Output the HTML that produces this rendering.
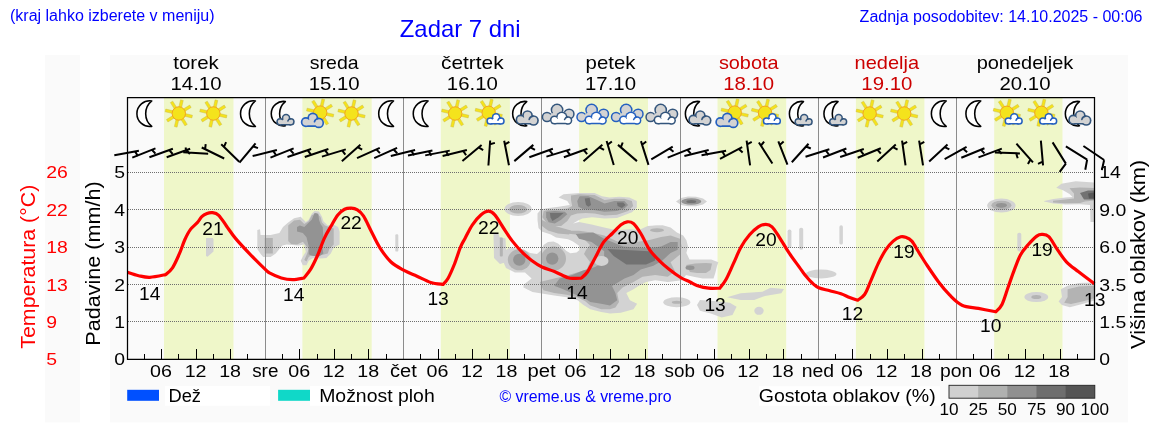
<!DOCTYPE html>
<html><head><meta charset="utf-8"><style>
html,body{margin:0;padding:0;background:#fff;overflow:hidden;width:1152px;height:443px;}
svg{display:block;font-family:"Liberation Sans", sans-serif;will-change:transform;}
</style></head><body>
<svg width="1152" height="443" viewBox="0 0 1152 443">
<rect x="0" y="0" width="1152" height="443" fill="#fff"/>
<rect x="45" y="55" width="35" height="367.4" fill="#fafafa"/>
<rect x="110" y="55" width="1018" height="367.4" fill="#fafafa"/>
<rect x="164.0" y="97.5" width="69.5" height="261.8" fill="#eff7c9"/>
<rect x="302.4" y="97.5" width="69.3" height="261.8" fill="#eff7c9"/>
<rect x="440.8" y="97.5" width="69.1" height="261.8" fill="#eff7c9"/>
<rect x="579.1" y="97.5" width="68.9" height="261.8" fill="#eff7c9"/>
<rect x="717.5" y="97.5" width="68.7" height="261.8" fill="#eff7c9"/>
<rect x="855.9" y="97.5" width="68.5" height="261.8" fill="#eff7c9"/>
<rect x="994.2" y="97.5" width="68.3" height="261.8" fill="#eff7c9"/>
<path d="M206.0,238.0 L212.8,238.0 L213.5,239.5 L213.5,251.5 L207.5,256.8 L206.0,256.0Z" fill="#d3d3d3"/>
<path d="M257.3,230.0 L260.0,229.2 L260.6,235.1 L270.6,235.1 L279.4,232.9 L283.0,227.0 L288.2,222.6 L294.1,218.2 L300.7,216.7 L303.6,219.7 L305.8,221.9 L308.7,219.7 L311.7,213.8 L314.6,210.9 L319.0,211.6 L322.0,216.7 L323.4,221.2 L327.8,225.6 L332.2,224.1 L338.1,227.0 L339.6,231.4 L339.6,244.6 L333.7,247.6 L330.8,253.5 L326.4,257.9 L320.5,258.6 L313.1,257.9 L308.7,260.8 L306.5,265.2 L302.9,265.2 L300.7,260.8 L302.9,256.4 L305.8,252.0 L304.3,244.6 L298.5,245.4 L286.7,244.6 L282.3,245.4 L279.4,249.1 L275.7,253.5 L270.6,257.1 L263.2,257.1 L260.3,253.5 L257.3,249.1Z" fill="#d3d3d3"/>
<path d="M264.7,238.0 L272.8,238.0 L272.8,253.5 L264.7,253.5Z" fill="#b3b3b3"/>
<path d="M288.2,225.6 L294.1,220.4 L299.9,219.7 L304.3,224.1 L308.7,221.2 L311.7,215.3 L316.1,213.1 L320.5,216.7 L322.0,222.6 L324.9,225.6 L329.3,227.0 L333.7,228.5 L333.7,244.6 L329.3,249.1 L327.8,253.5 L322.0,254.9 L316.1,255.7 L311.7,254.9 L308.7,257.1 L306.5,261.5 L304.3,260.1 L306.5,254.9 L308.7,249.1 L302.9,241.7 L297.0,244.6 L291.1,243.9 L288.2,241.0Z" fill="#b3b3b3"/>
<path d="M297.0,227.0 L299.9,225.6 L304.3,227.0 L307.3,224.1 L311.7,219.7 L314.6,213.1 L318.3,213.8 L319.0,219.7 L320.5,224.1 L322.7,227.0 L323.4,237.3 L322.0,246.1 L323.4,253.5 L319.0,256.4 L311.7,255.7 L308.7,254.2 L308.7,246.1 L306.5,237.3 L302.9,232.9 L297.0,231.4Z" fill="#939393"/>
<rect x="395.3" y="234.2" width="3.0" height="17.4" rx="1.2" fill="#d3d3d3"/>
<ellipse cx="518.1" cy="209.0" rx="13.6" ry="7.0" fill="#d3d3d3"/>
<ellipse cx="518.1" cy="209.2" rx="9.0" ry="4.3" fill="#b3b3b3"/>
<path d="M493.5,234.0 L498.5,233.5 L499.5,237.0 L505.5,238.5 L506.5,262.0 L500.0,264.0 L494.0,258.0Z" fill="#d3d3d3"/>
<rect x="499.8" y="237.5" width="3.0" height="19.1" rx="1" fill="#b3b3b3"/>
<path d="M537.5,213.6 L541.2,209.2 L548.6,208.0 L558.6,206.7 L569.8,204.9 L567.3,201.1 L558.6,197.4 L563.5,194.3 L579.7,193.1 L594.6,193.1 L602.0,196.2 L609.5,197.4 L619.4,196.8 L629.4,197.4 L636.8,201.1 L636.8,207.4 L631.9,212.3 L617.0,217.9 L604.5,218.5 L592.1,217.3 L582.2,218.5 L577.2,221.0 L573.0,223.5 L579.0,222.1 L591.6,224.5 L604.2,227.6 L612.1,229.2 L618.5,230.0 L629.5,229.2 L639.0,230.0 L647.7,226.0 L654.8,225.6 L662.7,225.3 L670.6,227.6 L676.9,232.4 L683.2,235.5 L686.4,240.3 L688.0,246.6 L686.4,252.9 L689.5,259.5 L700.3,259.5 L711.2,259.5 L718.4,262.2 L717.0,266.0 L715.3,273.0 L713.5,278.5 L702.7,278.5 L693.6,276.7 L686.0,275.0 L682.3,280.3 L667.8,282.1 L655.2,280.3 L646.1,282.1 L638.9,285.7 L633.5,289.3 L626.3,293.0 L629.9,300.2 L637.1,303.8 L633.5,309.2 L620.8,312.8 L610.0,313.5 L601.2,311.9 L590.3,309.2 L583.1,304.7 L577.7,300.2 L568.6,297.4 L554.2,295.6 L543.4,293.8 L532.5,292.0 L523.5,287.5 L523.5,284.8 L531.6,278.5 L525.0,272.5 L515.0,272.5 L506.0,268.0 L502.5,260.0 L504.0,251.0 L510.0,247.5 L516.7,248.5 L524.0,249.5 L530.0,253.0 L537.0,254.0 L541.5,250.0 L543.5,245.0 L548.0,242.0 L553.5,241.5 L558.0,243.5 L562.7,247.5 L566.5,251.0 L570.3,253.3 L576.5,252.6 L579.6,250.0 L578.8,245.5 L573.0,241.5 L568.0,239.2 L556.0,237.5 L550.8,234.4 L541.7,231.5 L538.5,228.0 L537.5,220.0Z" fill="#d3d3d3"/>
<path d="M543.7,211.1 L548.6,209.8 L558.6,209.2 L567.3,208.6 L572.2,206.1 L571.0,199.9 L571.0,195.6 L579.7,194.3 L594.6,194.9 L599.6,197.4 L604.5,199.9 L614.5,198.7 L624.4,198.7 L631.9,201.1 L633.1,206.1 L628.1,211.1 L617.0,214.8 L604.5,215.4 L594.6,213.6 L585.9,213.0 L577.2,213.6 L571.0,215.4 L567.3,221.0 L561.1,226.0 L552.4,226.0 L546.1,222.3 L542.4,217.3Z" fill="#b3b3b3"/>
<path d="M566.3,230.8 L579.0,230.8 L591.6,232.4 L604.2,235.5 L618.5,241.9 L635.8,241.9 L648.5,240.3 L661.1,237.1 L670.6,235.5 L680.0,238.7 L681.6,246.6 L680.0,254.5 L670.6,262.2 L675.0,271.3 L667.8,276.7 L655.2,274.9 L642.5,276.7 L633.5,282.1 L622.6,287.5 L617.2,292.9 L619.0,302.0 L615.4,307.4 L610.0,309.2 L601.2,309.2 L590.3,305.6 L584.9,301.1 L577.7,297.4 L566.8,294.7 L554.2,292.9 L543.4,290.2 L539.7,282.1 L554.2,278.5 L568.6,274.9 L577.7,272.2 L586.7,269.5 L590.0,262.0 L584.0,254.0 L586.0,250.0 L590.0,245.0 L585.0,240.0 L576.0,234.5 L566.0,233.5Z" fill="#b3b3b3"/>
<path d="M542.0,220.0 L552.0,225.0 L562.0,228.0 L571.0,230.5 L569.0,234.5 L558.0,233.5 L548.0,230.5 L542.0,226.0Z" fill="#b3b3b3"/>
<ellipse cx="519.3" cy="259.8" rx="11.5" ry="10.5" fill="#b3b3b3"/>
<ellipse cx="553.5" cy="258.6" rx="12.5" ry="12.0" fill="#b3b3b3"/>
<path d="M686.0,265.0 L695.0,263.5 L706.0,263.0 L712.0,263.5 L710.5,270.0 L706.0,273.0 L697.0,273.0 L690.0,272.0Z" fill="#b3b3b3"/>
<path d="M579.7,196.2 L588.4,196.2 L597.1,199.9 L604.5,203.6 L614.5,201.1 L624.4,201.1 L628.1,204.9 L624.4,208.6 L617.0,211.1 L604.5,211.7 L592.1,209.8 L583.4,209.2 L578.4,206.7 L577.2,201.1Z" fill="#939393"/>
<path d="M546.1,211.7 L554.8,211.1 L564.8,211.7 L567.3,214.2 L561.1,219.8 L554.8,223.5 L548.6,222.3 L546.1,217.3Z" fill="#939393"/>
<path d="M575.8,234.0 L593.2,232.4 L604.2,238.7 L623.2,246.6 L648.5,248.2 L661.1,246.6 L670.6,241.9 L677.7,241.9 L677.7,249.8 L670.6,252.9 L662.4,260.4 L653.4,265.8 L640.7,269.5 L633.5,274.9 L624.5,278.5 L615.4,283.9 L612.0,286.0 L615.4,292.9 L617.2,300.2 L610.0,305.6 L601.2,303.8 L590.3,302.0 L584.9,298.4 L575.9,294.7 L563.2,289.3 L554.2,285.7 L559.6,278.5 L572.3,274.9 L583.1,270.4 L595.0,267.0 L604.0,262.0 L604.2,251.3 L591.6,241.9 L579.0,238.7Z" fill="#939393"/>
<ellipse cx="519.3" cy="259.8" rx="6.2" ry="6.0" fill="#939393"/>
<ellipse cx="552.2" cy="258.6" rx="6.2" ry="6.2" fill="#939393"/>
<ellipse cx="690.0" cy="267.8" rx="4.5" ry="2.2" fill="#939393"/>
<ellipse cx="601.5" cy="261.0" rx="7.0" ry="5.0" fill="#d3d3d3"/>
<path d="M584.7,198.6 L589.6,198.0 L591.0,204.9 L588.4,206.7 L586.0,204.9Z" fill="#727272"/>
<path d="M617.0,202.4 L623.2,202.4 L625.6,204.9 L621.9,208.0 L617.6,206.1Z" fill="#727272"/>
<path d="M549.9,213.0 L563.5,213.0 L558.6,217.3 L552.4,221.0 L550.5,217.3Z" fill="#727272"/>
<path d="M607.4,249.0 L648.5,251.3 L655.0,256.0 L655.2,260.4 L646.1,264.5 L626.4,264.5 L613.7,256.0Z" fill="#727272"/>
<path d="M676.0,201.5 L681.0,198.0 L688.0,196.5 L696.0,196.7 L703.0,198.5 L707.0,201.5 L703.0,204.5 L696.0,206.2 L688.0,206.3 L681.0,205.0Z" fill="#d3d3d3"/>
<ellipse cx="691.3" cy="201.5" rx="10.0" ry="3.2" fill="#939393"/>
<ellipse cx="691.3" cy="201.5" rx="5.0" ry="1.6" fill="#727272"/>
<ellipse cx="657.0" cy="230.2" rx="12.6" ry="4.5" fill="#d3d3d3"/>
<ellipse cx="657.0" cy="230.2" rx="7.0" ry="2.0" fill="#b3b3b3"/>
<ellipse cx="676.8" cy="302.3" rx="13.5" ry="5.0" fill="#d3d3d3"/>
<ellipse cx="676.8" cy="302.3" rx="5.0" ry="1.5" fill="#b3b3b3"/>
<path d="M700.0,300.0 L716.3,301.3 L729.8,302.7 L736.6,306.7 L732.5,314.9 L721.7,317.6 L710.8,313.5 L700.0,310.8 L697.0,305.0Z" fill="#d3d3d3"/>
<path d="M727.0,297.2 L740.7,293.2 L762.3,291.8 L770.5,287.7 L784.0,289.1 L781.3,293.2 L765.0,295.9 L754.2,300.0 L740.7,300.0Z" fill="#d3d3d3"/>
<ellipse cx="759.0" cy="310.8" rx="4.7" ry="4.0" fill="#d3d3d3"/>
<rect x="787.6" y="229.4" width="3.8" height="18.6" rx="1.8" fill="#d3d3d3"/>
<rect x="799.2" y="227.7" width="4.0" height="22.0" rx="1.8" fill="#d3d3d3"/>
<ellipse cx="821.0" cy="274.0" rx="15.5" ry="4.4" fill="#d3d3d3"/>
<rect x="839.4" y="225.2" width="3.5" height="19.4" rx="1.7" fill="#d3d3d3"/>
<ellipse cx="1001.4" cy="205.6" rx="14.2" ry="7.0" fill="#d3d3d3"/>
<ellipse cx="1001.4" cy="205.3" rx="10.0" ry="4.6" fill="#b3b3b3"/>
<ellipse cx="1001.4" cy="205.3" rx="5.5" ry="2.4" fill="#939393"/>
<rect x="1017.3" y="232.7" width="4.0" height="18.7" rx="1.8" fill="#d3d3d3"/>
<ellipse cx="1036.3" cy="297.1" rx="11.9" ry="5.0" fill="#d3d3d3"/>
<ellipse cx="1036.3" cy="297.1" rx="5.0" ry="2.0" fill="#b3b3b3"/>
<path d="M1056.3,187.8 L1061.4,183.7 L1075.6,181.2 L1093.9,182.4 L1094.5,182.4 L1094.5,222.0 L1090.5,222.0 L1090.0,205.0 L1080.0,204.2 L1065.5,204.5 L1053.3,203.5 L1044.1,201.5 L1044.1,201.0 L1053.3,199.0 L1065.5,197.4 L1072.6,196.9 L1069.5,193.9 L1063.0,190.3Z" fill="#d3d3d3"/>
<path d="M1069.5,188.3 L1080.0,187.5 L1094.5,188.0 L1094.5,200.5 L1085.0,201.5 L1080.0,203.0 L1065.0,203.2 L1053.0,202.5 L1053.0,200.8 L1065.0,199.5 L1074.0,198.5 L1074.0,193.5Z" fill="#b3b3b3"/>
<path d="M1080.0,193.0 L1088.0,190.5 L1094.5,190.5 L1094.5,199.5 L1084.0,199.5Z" fill="#727272"/>
<path d="M1088.0,193.5 L1094.5,192.5 L1094.5,198.5 L1089.0,198.5Z" fill="#585858"/>
<path d="M1060.8,289.2 L1067.6,285.8 L1078.9,283.0 L1094.5,282.4 L1094.5,300.5 L1082.3,303.9 L1069.8,307.3 L1061.9,305.0 L1058.6,301.6 L1062.0,297.1Z" fill="#d3d3d3"/>
<path d="M1067.6,289.2 L1078.9,286.4 L1094.5,285.8 L1094.5,298.2 L1082.3,301.6 L1071.0,303.9 L1064.2,302.7 L1067.6,297.1Z" fill="#b3b3b3"/>
<line x1="128" y1="321.5" x2="1094" y2="321.5" stroke="#6e6e6e" stroke-width="1" stroke-dasharray="1 1"/>
<line x1="128" y1="284.5" x2="1094" y2="284.5" stroke="#6e6e6e" stroke-width="1" stroke-dasharray="1 1"/>
<line x1="128" y1="247.5" x2="1094" y2="247.5" stroke="#6e6e6e" stroke-width="1" stroke-dasharray="1 1"/>
<line x1="128" y1="209.5" x2="1094" y2="209.5" stroke="#6e6e6e" stroke-width="1" stroke-dasharray="1 1"/>
<line x1="128" y1="172.5" x2="1094" y2="172.5" stroke="#6e6e6e" stroke-width="1" stroke-dasharray="1 1"/>
<line x1="265.5" y1="97.5" x2="265.5" y2="359.3" stroke="#8c8c8c" stroke-width="1"/>
<line x1="403.5" y1="97.5" x2="403.5" y2="359.3" stroke="#8c8c8c" stroke-width="1"/>
<line x1="541.5" y1="97.5" x2="541.5" y2="359.3" stroke="#8c8c8c" stroke-width="1"/>
<line x1="680.5" y1="97.5" x2="680.5" y2="359.3" stroke="#8c8c8c" stroke-width="1"/>
<line x1="818.5" y1="97.5" x2="818.5" y2="359.3" stroke="#8c8c8c" stroke-width="1"/>
<line x1="956.5" y1="97.5" x2="956.5" y2="359.3" stroke="#8c8c8c" stroke-width="1"/>
<path d="M127.6,272.3 C129.4,272.9 134.9,274.9 138.6,275.7 C142.3,276.5 145.4,277.5 149.9,277.3 C154.4,277.1 163.1,275.1 165.7,274.6 C166.8,273.5 170.2,271.2 172.5,267.8 C174.8,264.4 177.1,258.9 179.2,254.2 C181.3,249.5 183.0,243.6 184.9,239.5 C186.8,235.4 188.4,232.2 190.5,229.4 C192.6,226.6 195.4,224.7 197.3,222.6 C199.2,220.5 200.2,218.2 201.8,216.7 C203.4,215.2 205.3,214.2 207.0,213.5 C208.7,212.8 210.1,212.3 212.0,212.6 C213.9,212.9 216.3,213.0 218.7,215.3 C221.1,217.6 223.8,222.3 226.6,226.2 C229.4,230.1 231.9,234.1 235.7,238.6 C239.5,243.1 244.3,248.2 249.2,253.3 C254.1,258.4 261.5,265.8 265.0,269.1 C268.5,272.4 267.3,271.7 270.0,273.2 C272.7,274.7 277.5,276.9 281.3,278.0 C285.1,279.1 288.8,279.6 292.6,279.6 C296.4,279.6 302.0,278.3 303.9,278.0 C305.0,276.5 308.4,272.9 310.7,269.1 C313.0,265.4 315.2,260.6 317.5,255.5 C319.8,250.4 321.9,243.5 324.2,238.6 C326.4,233.7 328.7,230.1 331.0,226.2 C333.3,222.2 335.5,217.7 337.8,214.9 C340.1,212.1 342.4,210.3 344.6,209.2 C346.8,208.1 349.1,208.0 351.2,208.1 C353.3,208.2 355.3,208.6 357.4,209.9 C359.5,211.2 361.3,212.6 363.6,216.1 C365.9,219.6 368.4,225.8 371.1,231.0 C373.8,236.2 376.5,242.4 379.8,247.6 C383.1,252.8 386.9,258.1 391.0,262.0 C395.1,265.9 400.3,268.3 404.6,270.7 C408.9,273.1 412.6,274.2 417.0,276.2 C421.4,278.1 426.3,281.0 430.7,282.4 C435.1,283.8 441.0,284.1 443.1,284.4 C443.9,283.4 446.2,281.5 448.1,278.2 C450.0,274.9 452.2,269.7 454.3,264.5 C456.4,259.3 458.7,251.4 460.5,247.1 C462.3,242.8 463.0,242.1 465.0,238.4 C467.0,234.7 469.7,228.7 472.4,224.8 C475.1,220.9 478.4,217.1 481.1,214.8 C483.8,212.5 486.3,211.1 488.6,211.1 C490.9,211.1 492.5,212.3 494.8,214.8 C497.1,217.3 499.3,221.7 502.2,226.0 C505.1,230.3 508.9,236.6 512.2,240.9 C515.5,245.2 518.8,248.8 522.1,252.1 C525.4,255.4 528.7,258.3 532.0,260.8 C535.3,263.3 538.3,265.2 542.0,267.0 C545.7,268.8 550.0,269.7 554.4,271.5 C558.8,273.3 564.7,276.7 568.1,277.8 C571.5,278.9 572.8,278.3 575.0,278.4 C577.2,278.5 580.2,278.2 581.2,278.2 C582.2,277.2 585.1,275.3 587.4,272.0 C589.7,268.7 592.2,263.3 594.9,258.3 C597.6,253.3 600.7,246.3 603.6,242.2 C606.5,238.1 609.4,236.4 612.3,233.5 C615.2,230.6 618.5,226.8 621.0,224.8 C623.5,222.9 625.1,222.0 627.2,221.8 C629.3,221.6 631.1,221.6 633.4,223.5 C635.7,225.4 638.1,229.2 640.8,233.5 C643.5,237.8 646.4,245.0 649.5,249.6 C652.6,254.2 656.2,257.5 659.5,260.8 C662.8,264.1 665.9,266.7 669.4,269.5 C672.9,272.3 677.2,275.4 680.6,277.5 C684.0,279.6 687.2,280.6 690.0,282.0 C692.8,283.4 694.4,284.7 697.5,285.7 C700.6,286.7 704.9,287.8 708.6,288.2 C712.3,288.6 717.9,288.2 719.8,288.2 C720.8,286.8 723.7,283.6 726.0,279.5 C728.3,275.4 731.0,268.8 733.5,263.4 C736.0,258.0 738.2,252.0 740.9,247.2 C743.6,242.4 746.7,238.2 749.6,234.8 C752.5,231.4 755.6,228.6 758.3,226.8 C761.0,225.1 763.5,224.3 765.8,224.3 C768.1,224.3 769.7,224.6 772.0,226.8 C774.3,229.0 776.5,232.9 779.4,237.3 C782.3,241.7 786.1,248.4 789.4,253.4 C792.7,258.4 796.7,263.5 799.3,267.1 C801.9,270.7 802.8,272.4 805.0,275.1 C807.2,277.8 810.2,281.2 812.5,283.3 C814.8,285.4 815.8,286.6 818.7,287.8 C821.6,289.0 826.1,289.7 829.8,290.7 C833.5,291.7 837.7,292.6 841.0,293.7 C844.3,294.8 846.9,296.4 849.7,297.5 C852.5,298.6 856.4,299.8 857.7,300.2 C858.9,299.2 862.4,297.7 864.6,294.5 C866.8,291.3 868.5,286.0 870.8,280.8 C873.1,275.6 875.8,268.6 878.3,263.4 C880.8,258.2 883.2,253.5 885.7,249.8 C888.2,246.1 890.7,243.3 893.2,241.1 C895.7,238.9 898.6,237.4 900.7,236.8 C902.8,236.2 903.8,236.6 905.6,237.3 C907.5,238.0 909.7,238.8 911.8,241.1 C913.9,243.4 916.3,248.3 918.0,251.0 C919.7,253.7 920.4,255.0 922.0,257.5 C923.6,260.0 924.7,261.9 927.5,266.0 C930.3,270.1 934.9,277.1 938.6,282.0 C942.3,286.9 945.9,291.3 949.8,295.2 C953.7,299.1 957.2,303.0 962.0,305.2 C966.8,307.4 972.8,307.3 978.4,308.4 C984.0,309.5 992.9,311.2 995.8,311.8 C996.8,310.6 999.9,308.5 1002.0,304.4 C1004.1,300.3 1006.1,292.8 1008.2,287.0 C1010.3,281.2 1012.3,275.0 1014.4,269.6 C1016.5,264.2 1018.3,258.8 1020.6,254.7 C1022.9,250.6 1025.4,247.9 1028.1,244.8 C1030.8,241.7 1034.5,237.8 1036.8,236.1 C1039.1,234.4 1040.0,234.3 1042.0,234.4 C1044.0,234.5 1046.3,234.2 1048.8,236.6 C1051.3,239.0 1054.0,244.6 1056.9,248.8 C1059.8,253.0 1062.8,258.0 1066.4,261.8 C1070.0,265.6 1073.9,268.1 1078.6,271.8 C1083.3,275.5 1091.8,281.8 1094.5,283.8" fill="none" stroke="#ff0000" stroke-width="3.2" stroke-linejoin="round" stroke-linecap="butt"/>
<text x="139.1" y="299.6" font-size="17.5" fill="#000" text-anchor="start" textLength="21.4" lengthAdjust="spacingAndGlyphs">14</text>
<text x="202.3" y="235.4" font-size="17.5" fill="#000" text-anchor="start" textLength="21.4" lengthAdjust="spacingAndGlyphs">21</text>
<text x="283.0" y="300.5" font-size="17.5" fill="#000" text-anchor="start" textLength="21.4" lengthAdjust="spacingAndGlyphs">14</text>
<text x="340.4" y="228.6" font-size="17.5" fill="#000" text-anchor="start" textLength="21.4" lengthAdjust="spacingAndGlyphs">22</text>
<text x="427.4" y="304.5" font-size="17.5" fill="#000" text-anchor="start" textLength="21.4" lengthAdjust="spacingAndGlyphs">13</text>
<text x="478.0" y="233.6" font-size="17.5" fill="#000" text-anchor="start" textLength="21.4" lengthAdjust="spacingAndGlyphs">22</text>
<text x="566.2" y="299.4" font-size="17.5" fill="#000" text-anchor="start" textLength="21.4" lengthAdjust="spacingAndGlyphs">14</text>
<text x="617.1" y="244.3" font-size="17.5" fill="#000" text-anchor="start" textLength="21.4" lengthAdjust="spacingAndGlyphs">20</text>
<text x="704.4" y="310.7" font-size="17.5" fill="#000" text-anchor="start" textLength="21.4" lengthAdjust="spacingAndGlyphs">13</text>
<text x="755.2" y="246.1" font-size="17.5" fill="#000" text-anchor="start" textLength="21.4" lengthAdjust="spacingAndGlyphs">20</text>
<text x="841.7" y="320.0" font-size="17.5" fill="#000" text-anchor="start" textLength="21.4" lengthAdjust="spacingAndGlyphs">12</text>
<text x="893.3" y="258.1" font-size="17.5" fill="#000" text-anchor="start" textLength="21.4" lengthAdjust="spacingAndGlyphs">19</text>
<text x="980.1" y="331.7" font-size="17.5" fill="#000" text-anchor="start" textLength="21.4" lengthAdjust="spacingAndGlyphs">10</text>
<text x="1031.4" y="256.0" font-size="17.5" fill="#000" text-anchor="start" textLength="21.4" lengthAdjust="spacingAndGlyphs">19</text>
<text x="1084.0" y="306.1" font-size="17.5" fill="#000" text-anchor="start" textLength="21.4" lengthAdjust="spacingAndGlyphs">13</text>
<path d="M151.77,100.90 A12.90,12.90 0 1 0 151.77,126.40 A16.40,16.40 0 0 1 151.77,100.90 Z" fill="#fff" stroke="#000" stroke-width="1.55" stroke-linejoin="round"/>
<path d="M184.54,116.26 L191.85,117.95 L192.48,115.22 L185.17,113.53Z" fill="#f4e31c" stroke="#c9b84a" stroke-width="0.45"/><path d="M180.91,119.50 L184.89,125.86 L187.26,124.38 L183.29,118.02Z" fill="#f4e31c" stroke="#c9b84a" stroke-width="0.45"/><path d="M176.05,119.23 L174.37,126.53 L177.10,127.16 L178.78,119.86Z" fill="#f4e31c" stroke="#c9b84a" stroke-width="0.45"/><path d="M172.81,115.60 L166.45,119.57 L167.94,121.95 L174.30,117.97Z" fill="#f4e31c" stroke="#c9b84a" stroke-width="0.45"/><path d="M173.09,110.74 L165.78,109.05 L165.15,111.78 L172.46,113.47Z" fill="#f4e31c" stroke="#c9b84a" stroke-width="0.45"/><path d="M176.71,107.50 L172.74,101.14 L170.37,102.62 L174.34,108.98Z" fill="#f4e31c" stroke="#c9b84a" stroke-width="0.45"/><path d="M181.57,107.77 L183.26,100.47 L180.53,99.84 L178.84,107.14Z" fill="#f4e31c" stroke="#c9b84a" stroke-width="0.45"/><path d="M184.81,111.40 L191.17,107.43 L189.69,105.05 L183.33,109.03Z" fill="#f4e31c" stroke="#c9b84a" stroke-width="0.45"/><circle cx="178.81" cy="113.50" r="6.70" fill="#f4e31c" stroke="#f3a41e" stroke-width="1"/>
<path d="M219.08,116.26 L226.39,117.95 L227.02,115.22 L219.71,113.53Z" fill="#f4e31c" stroke="#c9b84a" stroke-width="0.45"/><path d="M215.45,119.50 L219.43,125.86 L221.80,124.38 L217.83,118.02Z" fill="#f4e31c" stroke="#c9b84a" stroke-width="0.45"/><path d="M210.60,119.23 L208.91,126.53 L211.64,127.16 L213.32,119.86Z" fill="#f4e31c" stroke="#c9b84a" stroke-width="0.45"/><path d="M207.36,115.60 L200.99,119.57 L202.48,121.95 L208.84,117.97Z" fill="#f4e31c" stroke="#c9b84a" stroke-width="0.45"/><path d="M207.63,110.74 L200.32,109.05 L199.69,111.78 L207.00,113.47Z" fill="#f4e31c" stroke="#c9b84a" stroke-width="0.45"/><path d="M211.26,107.50 L207.28,101.14 L204.91,102.62 L208.88,108.98Z" fill="#f4e31c" stroke="#c9b84a" stroke-width="0.45"/><path d="M216.11,107.77 L217.80,100.47 L215.07,99.84 L213.39,107.14Z" fill="#f4e31c" stroke="#c9b84a" stroke-width="0.45"/><path d="M219.35,111.40 L225.72,107.43 L224.23,105.05 L217.87,109.03Z" fill="#f4e31c" stroke="#c9b84a" stroke-width="0.45"/><circle cx="213.35" cy="113.50" r="6.70" fill="#f4e31c" stroke="#f3a41e" stroke-width="1"/>
<path d="M255.40,100.90 A12.90,12.90 0 1 0 255.40,126.40 A16.40,16.40 0 0 1 255.40,100.90 Z" fill="#fff" stroke="#000" stroke-width="1.55" stroke-linejoin="round"/>
<path d="M285.36,101.53 A12.25,12.25 0 1 0 285.36,125.75 A15.58,15.58 0 0 1 285.36,101.53 Z" fill="#fff" stroke="#000" stroke-width="1.55" stroke-linejoin="round"/><circle cx="280.14" cy="121.80" r="3.85" fill="#33557c"/><circle cx="286.04" cy="118.10" r="4.25" fill="#33557c"/><circle cx="290.84" cy="121.80" r="3.85" fill="#33557c"/><path d="M280.14,121.80 L286.04,118.10 L290.84,121.80 L290.84,125.40 L280.14,125.40 Z" fill="#33557c"/><circle cx="280.14" cy="121.80" r="2.35" fill="#d3d3d3"/><circle cx="286.04" cy="118.10" r="2.75" fill="#d3d3d3"/><circle cx="290.84" cy="121.80" r="2.35" fill="#d3d3d3"/><path d="M280.14,121.80 L286.04,118.10 L290.84,121.80 L290.84,123.90 L280.14,123.90 Z" fill="#d3d3d3"/><path d="M287.84,121.00 A3.10,3.10 0 0 1 290.41,118.73" fill="none" stroke="#33557c" stroke-width="1.5" stroke-linecap="round"/>
<path d="M325.91,115.36 L333.21,117.05 L333.84,114.32 L326.54,112.63Z" fill="#f4e31c" stroke="#c9b84a" stroke-width="0.45"/><path d="M322.28,118.60 L326.25,124.96 L328.63,123.48 L324.65,117.12Z" fill="#f4e31c" stroke="#c9b84a" stroke-width="0.45"/><path d="M317.42,118.33 L315.74,125.63 L318.46,126.26 L320.15,118.96Z" fill="#f4e31c" stroke="#c9b84a" stroke-width="0.45"/><path d="M314.18,114.70 L307.82,118.67 L309.30,121.05 L315.66,117.07Z" fill="#f4e31c" stroke="#c9b84a" stroke-width="0.45"/><path d="M314.45,109.84 L307.15,108.15 L306.52,110.88 L313.82,112.57Z" fill="#f4e31c" stroke="#c9b84a" stroke-width="0.45"/><path d="M318.08,106.60 L314.11,100.24 L311.73,101.72 L315.71,108.08Z" fill="#f4e31c" stroke="#c9b84a" stroke-width="0.45"/><path d="M322.94,106.87 L324.63,99.57 L321.90,98.94 L320.21,106.24Z" fill="#f4e31c" stroke="#c9b84a" stroke-width="0.45"/><path d="M326.18,110.50 L332.54,106.53 L331.06,104.15 L324.70,108.13Z" fill="#f4e31c" stroke="#c9b84a" stroke-width="0.45"/><circle cx="320.18" cy="112.60" r="6.70" fill="#f4e31c" stroke="#f3a41e" stroke-width="1"/><circle cx="305.88" cy="122.10" r="5.10" fill="#2460c0"/><circle cx="312.78" cy="118.00" r="5.40" fill="#2460c0"/><circle cx="318.78" cy="122.90" r="5.30" fill="#2460c0"/><path d="M305.88,122.10 L312.78,118.00 L318.78,122.90 L318.78,126.95 L305.88,126.95 Z" fill="#2460c0"/><circle cx="305.88" cy="122.10" r="3.45" fill="#d3d3d3"/><circle cx="312.78" cy="118.00" r="3.75" fill="#d3d3d3"/><circle cx="318.78" cy="122.90" r="3.65" fill="#d3d3d3"/><path d="M305.88,122.10 L312.78,118.00 L318.78,122.90 L318.78,125.30 L305.88,125.30 Z" fill="#d3d3d3"/><path d="M314.46,121.74 A4.47,4.47 0 0 1 318.16,118.47" fill="none" stroke="#2460c0" stroke-width="1.65" stroke-linecap="round"/>
<path d="M357.25,116.26 L364.56,117.95 L365.19,115.22 L357.88,113.53Z" fill="#f4e31c" stroke="#c9b84a" stroke-width="0.45"/><path d="M353.62,119.50 L357.60,125.86 L359.97,124.38 L356.00,118.02Z" fill="#f4e31c" stroke="#c9b84a" stroke-width="0.45"/><path d="M348.76,119.23 L347.08,126.53 L349.81,127.16 L351.49,119.86Z" fill="#f4e31c" stroke="#c9b84a" stroke-width="0.45"/><path d="M345.52,115.60 L339.16,119.57 L340.65,121.95 L347.01,117.97Z" fill="#f4e31c" stroke="#c9b84a" stroke-width="0.45"/><path d="M345.80,110.74 L338.49,109.05 L337.86,111.78 L345.17,113.47Z" fill="#f4e31c" stroke="#c9b84a" stroke-width="0.45"/><path d="M349.42,107.50 L345.45,101.14 L343.08,102.62 L347.05,108.98Z" fill="#f4e31c" stroke="#c9b84a" stroke-width="0.45"/><path d="M354.28,107.77 L355.97,100.47 L353.24,99.84 L351.55,107.14Z" fill="#f4e31c" stroke="#c9b84a" stroke-width="0.45"/><path d="M357.52,111.40 L363.88,107.43 L362.40,105.05 L356.04,109.03Z" fill="#f4e31c" stroke="#c9b84a" stroke-width="0.45"/><circle cx="351.52" cy="113.50" r="6.70" fill="#f4e31c" stroke="#f3a41e" stroke-width="1"/>
<path d="M393.56,100.90 A12.90,12.90 0 1 0 393.56,126.40 A16.40,16.40 0 0 1 393.56,100.90 Z" fill="#fff" stroke="#000" stroke-width="1.55" stroke-linejoin="round"/>
<path d="M428.11,100.90 A12.90,12.90 0 1 0 428.11,126.40 A16.40,16.40 0 0 1 428.11,100.90 Z" fill="#fff" stroke="#000" stroke-width="1.55" stroke-linejoin="round"/>
<path d="M460.88,116.26 L468.18,117.95 L468.81,115.22 L461.51,113.53Z" fill="#f4e31c" stroke="#c9b84a" stroke-width="0.45"/><path d="M457.25,119.50 L461.22,125.86 L463.60,124.38 L459.62,118.02Z" fill="#f4e31c" stroke="#c9b84a" stroke-width="0.45"/><path d="M452.39,119.23 L450.70,126.53 L453.43,127.16 L455.12,119.86Z" fill="#f4e31c" stroke="#c9b84a" stroke-width="0.45"/><path d="M449.15,115.60 L442.79,119.57 L444.27,121.95 L450.63,117.97Z" fill="#f4e31c" stroke="#c9b84a" stroke-width="0.45"/><path d="M449.42,110.74 L442.12,109.05 L441.49,111.78 L448.79,113.47Z" fill="#f4e31c" stroke="#c9b84a" stroke-width="0.45"/><path d="M453.05,107.50 L449.08,101.14 L446.70,102.62 L450.68,108.98Z" fill="#f4e31c" stroke="#c9b84a" stroke-width="0.45"/><path d="M457.91,107.77 L459.59,100.47 L456.87,99.84 L455.18,107.14Z" fill="#f4e31c" stroke="#c9b84a" stroke-width="0.45"/><path d="M461.15,111.40 L467.51,107.43 L466.03,105.05 L459.67,109.03Z" fill="#f4e31c" stroke="#c9b84a" stroke-width="0.45"/><circle cx="455.15" cy="113.50" r="6.70" fill="#f4e31c" stroke="#f3a41e" stroke-width="1"/>
<path d="M494.42,115.56 L501.72,117.25 L502.35,114.52 L495.05,112.83Z" fill="#f4e31c" stroke="#c9b84a" stroke-width="0.45"/><path d="M490.79,118.80 L494.76,125.16 L497.14,123.68 L493.16,117.32Z" fill="#f4e31c" stroke="#c9b84a" stroke-width="0.45"/><path d="M485.93,118.53 L484.25,125.83 L486.97,126.46 L488.66,119.16Z" fill="#f4e31c" stroke="#c9b84a" stroke-width="0.45"/><path d="M482.69,114.90 L476.33,118.87 L477.81,121.25 L484.17,117.27Z" fill="#f4e31c" stroke="#c9b84a" stroke-width="0.45"/><path d="M482.96,110.04 L475.66,108.35 L475.03,111.08 L482.33,112.77Z" fill="#f4e31c" stroke="#c9b84a" stroke-width="0.45"/><path d="M486.59,106.80 L482.62,100.44 L480.24,101.92 L484.22,108.28Z" fill="#f4e31c" stroke="#c9b84a" stroke-width="0.45"/><path d="M491.45,107.07 L493.14,99.77 L490.41,99.14 L488.72,106.44Z" fill="#f4e31c" stroke="#c9b84a" stroke-width="0.45"/><path d="M494.69,110.70 L501.05,106.73 L499.57,104.35 L493.21,108.33Z" fill="#f4e31c" stroke="#c9b84a" stroke-width="0.45"/><circle cx="488.69" cy="112.80" r="6.70" fill="#f4e31c" stroke="#f3a41e" stroke-width="1"/><circle cx="490.19" cy="121.00" r="3.85" fill="#2460c0"/><circle cx="496.09" cy="117.30" r="4.25" fill="#2460c0"/><circle cx="500.89" cy="121.00" r="3.85" fill="#2460c0"/><path d="M490.19,121.00 L496.09,117.30 L500.89,121.00 L500.89,124.60 L490.19,124.60 Z" fill="#2460c0"/><circle cx="490.19" cy="121.00" r="2.35" fill="#ffffff"/><circle cx="496.09" cy="117.30" r="2.75" fill="#ffffff"/><circle cx="500.89" cy="121.00" r="2.35" fill="#ffffff"/><path d="M490.19,121.00 L496.09,117.30 L500.89,121.00 L500.89,123.10 L490.19,123.10 Z" fill="#ffffff"/><path d="M497.90,120.20 A3.10,3.10 0 0 1 500.46,117.93" fill="none" stroke="#2460c0" stroke-width="1.5" stroke-linecap="round"/>
<path d="M526.76,101.53 A12.25,12.25 0 1 0 526.76,125.75 A15.58,15.58 0 0 1 526.76,101.53 Z" fill="#fff" stroke="#000" stroke-width="1.55" stroke-linejoin="round"/><circle cx="520.63" cy="119.70" r="5.10" fill="#33557c"/><circle cx="527.53" cy="115.60" r="5.40" fill="#33557c"/><circle cx="533.53" cy="120.50" r="5.30" fill="#33557c"/><path d="M520.63,119.70 L527.53,115.60 L533.53,120.50 L533.53,124.55 L520.63,124.55 Z" fill="#33557c"/><circle cx="520.63" cy="119.70" r="3.45" fill="#d3d3d3"/><circle cx="527.53" cy="115.60" r="3.75" fill="#d3d3d3"/><circle cx="533.53" cy="120.50" r="3.65" fill="#d3d3d3"/><path d="M520.63,119.70 L527.53,115.60 L533.53,120.50 L533.53,122.90 L520.63,122.90 Z" fill="#d3d3d3"/><path d="M529.21,119.34 A4.47,4.47 0 0 1 532.91,116.07" fill="none" stroke="#33557c" stroke-width="1.65" stroke-linecap="round"/>
<circle cx="546.98" cy="117.00" r="5.30" fill="#33557c"/><circle cx="557.07" cy="110.00" r="6.40" fill="#33557c"/><circle cx="569.07" cy="114.00" r="5.60" fill="#33557c"/><path d="M546.98,117.00 L557.07,110.00 L569.07,114.00 L569.07,119.35 L546.98,119.35 Z" fill="#33557c"/><circle cx="546.98" cy="117.00" r="3.80" fill="#d3d3d3"/><circle cx="557.07" cy="110.00" r="4.90" fill="#d3d3d3"/><circle cx="569.07" cy="114.00" r="4.10" fill="#d3d3d3"/><path d="M546.98,117.00 L557.07,110.00 L569.07,114.00 L569.07,117.85 L546.98,117.85 Z" fill="#d3d3d3"/><circle cx="554.48" cy="120.00" r="4.50" fill="#33557c"/><circle cx="561.77" cy="117.30" r="5.70" fill="#33557c"/><circle cx="567.98" cy="120.50" r="4.30" fill="#33557c"/><path d="M554.48,120.00 L561.77,117.30 L567.98,120.50 L567.98,124.25 L554.48,124.25 Z" fill="#33557c"/><circle cx="554.48" cy="120.00" r="3.00" fill="#ffffff"/><circle cx="561.77" cy="117.30" r="4.20" fill="#ffffff"/><circle cx="567.98" cy="120.50" r="2.80" fill="#ffffff"/><path d="M554.48,120.00 L561.77,117.30 L567.98,120.50 L567.98,122.75 L554.48,122.75 Z" fill="#ffffff"/><path d="M564.55,119.58 A3.55,3.55 0 0 1 567.48,116.98" fill="none" stroke="#33557c" stroke-width="1.5" stroke-linecap="round"/>
<circle cx="581.52" cy="117.00" r="5.30" fill="#2460c0"/><circle cx="591.62" cy="110.00" r="6.40" fill="#2460c0"/><circle cx="603.62" cy="114.00" r="5.60" fill="#2460c0"/><path d="M581.52,117.00 L591.62,110.00 L603.62,114.00 L603.62,119.35 L581.52,119.35 Z" fill="#2460c0"/><circle cx="581.52" cy="117.00" r="3.80" fill="#d3d3d3"/><circle cx="591.62" cy="110.00" r="4.90" fill="#d3d3d3"/><circle cx="603.62" cy="114.00" r="4.10" fill="#d3d3d3"/><path d="M581.52,117.00 L591.62,110.00 L603.62,114.00 L603.62,117.85 L581.52,117.85 Z" fill="#d3d3d3"/><circle cx="589.02" cy="120.00" r="4.50" fill="#2460c0"/><circle cx="596.32" cy="117.30" r="5.70" fill="#2460c0"/><circle cx="602.52" cy="120.50" r="4.30" fill="#2460c0"/><path d="M589.02,120.00 L596.32,117.30 L602.52,120.50 L602.52,124.25 L589.02,124.25 Z" fill="#2460c0"/><circle cx="589.02" cy="120.00" r="3.00" fill="#ffffff"/><circle cx="596.32" cy="117.30" r="4.20" fill="#ffffff"/><circle cx="602.52" cy="120.50" r="2.80" fill="#ffffff"/><path d="M589.02,120.00 L596.32,117.30 L602.52,120.50 L602.52,122.75 L589.02,122.75 Z" fill="#ffffff"/><path d="M599.09,119.58 A3.55,3.55 0 0 1 602.02,116.98" fill="none" stroke="#2460c0" stroke-width="1.5" stroke-linecap="round"/>
<circle cx="616.06" cy="117.00" r="5.30" fill="#2460c0"/><circle cx="626.16" cy="110.00" r="6.40" fill="#2460c0"/><circle cx="638.16" cy="114.00" r="5.60" fill="#2460c0"/><path d="M616.06,117.00 L626.16,110.00 L638.16,114.00 L638.16,119.35 L616.06,119.35 Z" fill="#2460c0"/><circle cx="616.06" cy="117.00" r="3.80" fill="#d3d3d3"/><circle cx="626.16" cy="110.00" r="4.90" fill="#d3d3d3"/><circle cx="638.16" cy="114.00" r="4.10" fill="#d3d3d3"/><path d="M616.06,117.00 L626.16,110.00 L638.16,114.00 L638.16,117.85 L616.06,117.85 Z" fill="#d3d3d3"/><circle cx="623.56" cy="120.00" r="4.50" fill="#2460c0"/><circle cx="630.86" cy="117.30" r="5.70" fill="#2460c0"/><circle cx="637.06" cy="120.50" r="4.30" fill="#2460c0"/><path d="M623.56,120.00 L630.86,117.30 L637.06,120.50 L637.06,124.25 L623.56,124.25 Z" fill="#2460c0"/><circle cx="623.56" cy="120.00" r="3.00" fill="#ffffff"/><circle cx="630.86" cy="117.30" r="4.20" fill="#ffffff"/><circle cx="637.06" cy="120.50" r="2.80" fill="#ffffff"/><path d="M623.56,120.00 L630.86,117.30 L637.06,120.50 L637.06,122.75 L623.56,122.75 Z" fill="#ffffff"/><path d="M633.63,119.58 A3.55,3.55 0 0 1 636.56,116.98" fill="none" stroke="#2460c0" stroke-width="1.5" stroke-linecap="round"/>
<circle cx="650.60" cy="117.00" r="5.30" fill="#33557c"/><circle cx="660.70" cy="110.00" r="6.40" fill="#33557c"/><circle cx="672.70" cy="114.00" r="5.60" fill="#33557c"/><path d="M650.60,117.00 L660.70,110.00 L672.70,114.00 L672.70,119.35 L650.60,119.35 Z" fill="#33557c"/><circle cx="650.60" cy="117.00" r="3.80" fill="#d3d3d3"/><circle cx="660.70" cy="110.00" r="4.90" fill="#d3d3d3"/><circle cx="672.70" cy="114.00" r="4.10" fill="#d3d3d3"/><path d="M650.60,117.00 L660.70,110.00 L672.70,114.00 L672.70,117.85 L650.60,117.85 Z" fill="#d3d3d3"/><circle cx="658.10" cy="120.00" r="4.50" fill="#33557c"/><circle cx="665.40" cy="117.30" r="5.70" fill="#33557c"/><circle cx="671.60" cy="120.50" r="4.30" fill="#33557c"/><path d="M658.10,120.00 L665.40,117.30 L671.60,120.50 L671.60,124.25 L658.10,124.25 Z" fill="#33557c"/><circle cx="658.10" cy="120.00" r="3.00" fill="#ffffff"/><circle cx="665.40" cy="117.30" r="4.20" fill="#ffffff"/><circle cx="671.60" cy="120.50" r="2.80" fill="#ffffff"/><path d="M658.10,120.00 L665.40,117.30 L671.60,120.50 L671.60,122.75 L658.10,122.75 Z" fill="#ffffff"/><path d="M668.17,119.58 A3.55,3.55 0 0 1 671.11,116.98" fill="none" stroke="#33557c" stroke-width="1.5" stroke-linecap="round"/>
<path d="M699.47,101.53 A12.25,12.25 0 1 0 699.47,125.75 A15.58,15.58 0 0 1 699.47,101.53 Z" fill="#fff" stroke="#000" stroke-width="1.55" stroke-linejoin="round"/><circle cx="693.34" cy="119.70" r="5.10" fill="#33557c"/><circle cx="700.24" cy="115.60" r="5.40" fill="#33557c"/><circle cx="706.24" cy="120.50" r="5.30" fill="#33557c"/><path d="M693.34,119.70 L700.24,115.60 L706.24,120.50 L706.24,124.55 L693.34,124.55 Z" fill="#33557c"/><circle cx="693.34" cy="119.70" r="3.45" fill="#d3d3d3"/><circle cx="700.24" cy="115.60" r="3.75" fill="#d3d3d3"/><circle cx="706.24" cy="120.50" r="3.65" fill="#d3d3d3"/><path d="M693.34,119.70 L700.24,115.60 L706.24,120.50 L706.24,122.90 L693.34,122.90 Z" fill="#d3d3d3"/><path d="M701.92,119.34 A4.47,4.47 0 0 1 705.62,116.07" fill="none" stroke="#33557c" stroke-width="1.65" stroke-linecap="round"/>
<path d="M740.41,115.36 L747.72,117.05 L748.35,114.32 L741.04,112.63Z" fill="#f4e31c" stroke="#c9b84a" stroke-width="0.45"/><path d="M736.78,118.60 L740.76,124.96 L743.13,123.48 L739.16,117.12Z" fill="#f4e31c" stroke="#c9b84a" stroke-width="0.45"/><path d="M731.93,118.33 L730.24,125.63 L732.97,126.26 L734.65,118.96Z" fill="#f4e31c" stroke="#c9b84a" stroke-width="0.45"/><path d="M728.69,114.70 L722.32,118.67 L723.81,121.05 L730.17,117.07Z" fill="#f4e31c" stroke="#c9b84a" stroke-width="0.45"/><path d="M728.96,109.84 L721.65,108.15 L721.02,110.88 L728.33,112.57Z" fill="#f4e31c" stroke="#c9b84a" stroke-width="0.45"/><path d="M732.59,106.60 L728.61,100.24 L726.24,101.72 L730.21,108.08Z" fill="#f4e31c" stroke="#c9b84a" stroke-width="0.45"/><path d="M737.44,106.87 L739.13,99.57 L736.40,98.94 L734.72,106.24Z" fill="#f4e31c" stroke="#c9b84a" stroke-width="0.45"/><path d="M740.68,110.50 L747.05,106.53 L745.56,104.15 L739.20,108.13Z" fill="#f4e31c" stroke="#c9b84a" stroke-width="0.45"/><circle cx="734.69" cy="112.60" r="6.70" fill="#f4e31c" stroke="#f3a41e" stroke-width="1"/><circle cx="720.38" cy="122.10" r="5.10" fill="#2460c0"/><circle cx="727.28" cy="118.00" r="5.40" fill="#2460c0"/><circle cx="733.28" cy="122.90" r="5.30" fill="#2460c0"/><path d="M720.38,122.10 L727.28,118.00 L733.28,122.90 L733.28,126.95 L720.38,126.95 Z" fill="#2460c0"/><circle cx="720.38" cy="122.10" r="3.45" fill="#d3d3d3"/><circle cx="727.28" cy="118.00" r="3.75" fill="#d3d3d3"/><circle cx="733.28" cy="122.90" r="3.65" fill="#d3d3d3"/><path d="M720.38,122.10 L727.28,118.00 L733.28,122.90 L733.28,125.30 L720.38,125.30 Z" fill="#d3d3d3"/><path d="M728.96,121.74 A4.47,4.47 0 0 1 732.66,118.47" fill="none" stroke="#2460c0" stroke-width="1.65" stroke-linecap="round"/>
<path d="M770.75,115.56 L778.06,117.25 L778.69,114.52 L771.38,112.83Z" fill="#f4e31c" stroke="#c9b84a" stroke-width="0.45"/><path d="M767.13,118.80 L771.10,125.16 L773.47,123.68 L769.50,117.32Z" fill="#f4e31c" stroke="#c9b84a" stroke-width="0.45"/><path d="M762.27,118.53 L760.58,125.83 L763.31,126.46 L765.00,119.16Z" fill="#f4e31c" stroke="#c9b84a" stroke-width="0.45"/><path d="M759.03,114.90 L752.67,118.87 L754.15,121.25 L760.51,117.27Z" fill="#f4e31c" stroke="#c9b84a" stroke-width="0.45"/><path d="M759.30,110.04 L751.99,108.35 L751.36,111.08 L758.67,112.77Z" fill="#f4e31c" stroke="#c9b84a" stroke-width="0.45"/><path d="M762.93,106.80 L758.95,100.44 L756.58,101.92 L760.55,108.28Z" fill="#f4e31c" stroke="#c9b84a" stroke-width="0.45"/><path d="M767.79,107.07 L769.47,99.77 L766.74,99.14 L765.06,106.44Z" fill="#f4e31c" stroke="#c9b84a" stroke-width="0.45"/><path d="M771.03,110.70 L777.39,106.73 L775.90,104.35 L769.54,108.33Z" fill="#f4e31c" stroke="#c9b84a" stroke-width="0.45"/><circle cx="765.03" cy="112.80" r="6.70" fill="#f4e31c" stroke="#f3a41e" stroke-width="1"/><circle cx="766.53" cy="121.00" r="3.85" fill="#2460c0"/><circle cx="772.43" cy="117.30" r="4.25" fill="#2460c0"/><circle cx="777.23" cy="121.00" r="3.85" fill="#2460c0"/><path d="M766.53,121.00 L772.43,117.30 L777.23,121.00 L777.23,124.60 L766.53,124.60 Z" fill="#2460c0"/><circle cx="766.53" cy="121.00" r="2.35" fill="#ffffff"/><circle cx="772.43" cy="117.30" r="2.75" fill="#ffffff"/><circle cx="777.23" cy="121.00" r="2.35" fill="#ffffff"/><path d="M766.53,121.00 L772.43,117.30 L777.23,121.00 L777.23,123.10 L766.53,123.10 Z" fill="#ffffff"/><path d="M774.23,120.20 A3.10,3.10 0 0 1 776.80,117.93" fill="none" stroke="#2460c0" stroke-width="1.5" stroke-linecap="round"/>
<path d="M803.49,101.53 A12.25,12.25 0 1 0 803.49,125.75 A15.58,15.58 0 0 1 803.49,101.53 Z" fill="#fff" stroke="#000" stroke-width="1.55" stroke-linejoin="round"/><circle cx="798.27" cy="121.80" r="3.85" fill="#33557c"/><circle cx="804.17" cy="118.10" r="4.25" fill="#33557c"/><circle cx="808.97" cy="121.80" r="3.85" fill="#33557c"/><path d="M798.27,121.80 L804.17,118.10 L808.97,121.80 L808.97,125.40 L798.27,125.40 Z" fill="#33557c"/><circle cx="798.27" cy="121.80" r="2.35" fill="#d3d3d3"/><circle cx="804.17" cy="118.10" r="2.75" fill="#d3d3d3"/><circle cx="808.97" cy="121.80" r="2.35" fill="#d3d3d3"/><path d="M798.27,121.80 L804.17,118.10 L808.97,121.80 L808.97,123.90 L798.27,123.90 Z" fill="#d3d3d3"/><path d="M805.97,121.00 A3.10,3.10 0 0 1 808.54,118.73" fill="none" stroke="#33557c" stroke-width="1.5" stroke-linecap="round"/>
<path d="M838.04,101.53 A12.25,12.25 0 1 0 838.04,125.75 A15.58,15.58 0 0 1 838.04,101.53 Z" fill="#fff" stroke="#000" stroke-width="1.55" stroke-linejoin="round"/><circle cx="832.81" cy="121.80" r="3.85" fill="#33557c"/><circle cx="838.71" cy="118.10" r="4.25" fill="#33557c"/><circle cx="843.51" cy="121.80" r="3.85" fill="#33557c"/><path d="M832.81,121.80 L838.71,118.10 L843.51,121.80 L843.51,125.40 L832.81,125.40 Z" fill="#33557c"/><circle cx="832.81" cy="121.80" r="2.35" fill="#d3d3d3"/><circle cx="838.71" cy="118.10" r="2.75" fill="#d3d3d3"/><circle cx="843.51" cy="121.80" r="2.35" fill="#d3d3d3"/><path d="M832.81,121.80 L838.71,118.10 L843.51,121.80 L843.51,123.90 L832.81,123.90 Z" fill="#d3d3d3"/><path d="M840.52,121.00 A3.10,3.10 0 0 1 843.08,118.73" fill="none" stroke="#33557c" stroke-width="1.5" stroke-linecap="round"/>
<path d="M875.38,116.26 L882.69,117.95 L883.32,115.22 L876.01,113.53Z" fill="#f4e31c" stroke="#c9b84a" stroke-width="0.45"/><path d="M871.75,119.50 L875.73,125.86 L878.10,124.38 L874.13,118.02Z" fill="#f4e31c" stroke="#c9b84a" stroke-width="0.45"/><path d="M866.89,119.23 L865.21,126.53 L867.94,127.16 L869.62,119.86Z" fill="#f4e31c" stroke="#c9b84a" stroke-width="0.45"/><path d="M863.65,115.60 L857.29,119.57 L858.78,121.95 L865.14,117.97Z" fill="#f4e31c" stroke="#c9b84a" stroke-width="0.45"/><path d="M863.93,110.74 L856.62,109.05 L855.99,111.78 L863.30,113.47Z" fill="#f4e31c" stroke="#c9b84a" stroke-width="0.45"/><path d="M867.55,107.50 L863.58,101.14 L861.21,102.62 L865.18,108.98Z" fill="#f4e31c" stroke="#c9b84a" stroke-width="0.45"/><path d="M872.41,107.77 L874.10,100.47 L871.37,99.84 L869.68,107.14Z" fill="#f4e31c" stroke="#c9b84a" stroke-width="0.45"/><path d="M875.65,111.40 L882.01,107.43 L880.53,105.05 L874.17,109.03Z" fill="#f4e31c" stroke="#c9b84a" stroke-width="0.45"/><circle cx="869.65" cy="113.50" r="6.70" fill="#f4e31c" stroke="#f3a41e" stroke-width="1"/>
<path d="M909.92,116.26 L917.23,117.95 L917.86,115.22 L910.55,113.53Z" fill="#f4e31c" stroke="#c9b84a" stroke-width="0.45"/><path d="M906.29,119.50 L910.27,125.86 L912.64,124.38 L908.67,118.02Z" fill="#f4e31c" stroke="#c9b84a" stroke-width="0.45"/><path d="M901.44,119.23 L899.75,126.53 L902.48,127.16 L904.16,119.86Z" fill="#f4e31c" stroke="#c9b84a" stroke-width="0.45"/><path d="M898.20,115.60 L891.83,119.57 L893.32,121.95 L899.68,117.97Z" fill="#f4e31c" stroke="#c9b84a" stroke-width="0.45"/><path d="M898.47,110.74 L891.16,109.05 L890.53,111.78 L897.84,113.47Z" fill="#f4e31c" stroke="#c9b84a" stroke-width="0.45"/><path d="M902.10,107.50 L898.12,101.14 L895.75,102.62 L899.72,108.98Z" fill="#f4e31c" stroke="#c9b84a" stroke-width="0.45"/><path d="M906.95,107.77 L908.64,100.47 L905.91,99.84 L904.23,107.14Z" fill="#f4e31c" stroke="#c9b84a" stroke-width="0.45"/><path d="M910.19,111.40 L916.56,107.43 L915.07,105.05 L908.71,109.03Z" fill="#f4e31c" stroke="#c9b84a" stroke-width="0.45"/><circle cx="904.19" cy="113.50" r="6.70" fill="#f4e31c" stroke="#f3a41e" stroke-width="1"/>
<path d="M946.24,100.90 A12.90,12.90 0 1 0 946.24,126.40 A16.40,16.40 0 0 1 946.24,100.90 Z" fill="#fff" stroke="#000" stroke-width="1.55" stroke-linejoin="round"/>
<path d="M980.78,100.90 A12.90,12.90 0 1 0 980.78,126.40 A16.40,16.40 0 0 1 980.78,100.90 Z" fill="#fff" stroke="#000" stroke-width="1.55" stroke-linejoin="round"/>
<path d="M1012.55,115.56 L1019.85,117.25 L1020.48,114.52 L1013.18,112.83Z" fill="#f4e31c" stroke="#c9b84a" stroke-width="0.45"/><path d="M1008.92,118.80 L1012.89,125.16 L1015.27,123.68 L1011.29,117.32Z" fill="#f4e31c" stroke="#c9b84a" stroke-width="0.45"/><path d="M1004.06,118.53 L1002.38,125.83 L1005.10,126.46 L1006.79,119.16Z" fill="#f4e31c" stroke="#c9b84a" stroke-width="0.45"/><path d="M1000.82,114.90 L994.46,118.87 L995.94,121.25 L1002.30,117.27Z" fill="#f4e31c" stroke="#c9b84a" stroke-width="0.45"/><path d="M1001.09,110.04 L993.79,108.35 L993.16,111.08 L1000.46,112.77Z" fill="#f4e31c" stroke="#c9b84a" stroke-width="0.45"/><path d="M1004.72,106.80 L1000.75,100.44 L998.37,101.92 L1002.35,108.28Z" fill="#f4e31c" stroke="#c9b84a" stroke-width="0.45"/><path d="M1009.58,107.07 L1011.27,99.77 L1008.54,99.14 L1006.85,106.44Z" fill="#f4e31c" stroke="#c9b84a" stroke-width="0.45"/><path d="M1012.82,110.70 L1019.18,106.73 L1017.70,104.35 L1011.34,108.33Z" fill="#f4e31c" stroke="#c9b84a" stroke-width="0.45"/><circle cx="1006.82" cy="112.80" r="6.70" fill="#f4e31c" stroke="#f3a41e" stroke-width="1"/><circle cx="1008.32" cy="121.00" r="3.85" fill="#2460c0"/><circle cx="1014.22" cy="117.30" r="4.25" fill="#2460c0"/><circle cx="1019.02" cy="121.00" r="3.85" fill="#2460c0"/><path d="M1008.32,121.00 L1014.22,117.30 L1019.02,121.00 L1019.02,124.60 L1008.32,124.60 Z" fill="#2460c0"/><circle cx="1008.32" cy="121.00" r="2.35" fill="#ffffff"/><circle cx="1014.22" cy="117.30" r="2.75" fill="#ffffff"/><circle cx="1019.02" cy="121.00" r="2.35" fill="#ffffff"/><path d="M1008.32,121.00 L1014.22,117.30 L1019.02,121.00 L1019.02,123.10 L1008.32,123.10 Z" fill="#ffffff"/><path d="M1016.03,120.20 A3.10,3.10 0 0 1 1018.59,117.93" fill="none" stroke="#2460c0" stroke-width="1.5" stroke-linecap="round"/>
<path d="M1047.09,115.56 L1054.40,117.25 L1055.03,114.52 L1047.72,112.83Z" fill="#f4e31c" stroke="#c9b84a" stroke-width="0.45"/><path d="M1043.46,118.80 L1047.44,125.16 L1049.81,123.68 L1045.84,117.32Z" fill="#f4e31c" stroke="#c9b84a" stroke-width="0.45"/><path d="M1038.60,118.53 L1036.92,125.83 L1039.65,126.46 L1041.33,119.16Z" fill="#f4e31c" stroke="#c9b84a" stroke-width="0.45"/><path d="M1035.36,114.90 L1029.00,118.87 L1030.49,121.25 L1036.85,117.27Z" fill="#f4e31c" stroke="#c9b84a" stroke-width="0.45"/><path d="M1035.64,110.04 L1028.33,108.35 L1027.70,111.08 L1035.01,112.77Z" fill="#f4e31c" stroke="#c9b84a" stroke-width="0.45"/><path d="M1039.26,106.80 L1035.29,100.44 L1032.92,101.92 L1036.89,108.28Z" fill="#f4e31c" stroke="#c9b84a" stroke-width="0.45"/><path d="M1044.12,107.07 L1045.81,99.77 L1043.08,99.14 L1041.39,106.44Z" fill="#f4e31c" stroke="#c9b84a" stroke-width="0.45"/><path d="M1047.36,110.70 L1053.72,106.73 L1052.24,104.35 L1045.88,108.33Z" fill="#f4e31c" stroke="#c9b84a" stroke-width="0.45"/><circle cx="1041.36" cy="112.80" r="6.70" fill="#f4e31c" stroke="#f3a41e" stroke-width="1"/><circle cx="1042.86" cy="121.00" r="3.85" fill="#2460c0"/><circle cx="1048.76" cy="117.30" r="4.25" fill="#2460c0"/><circle cx="1053.56" cy="121.00" r="3.85" fill="#2460c0"/><path d="M1042.86,121.00 L1048.76,117.30 L1053.56,121.00 L1053.56,124.60 L1042.86,124.60 Z" fill="#2460c0"/><circle cx="1042.86" cy="121.00" r="2.35" fill="#ffffff"/><circle cx="1048.76" cy="117.30" r="2.75" fill="#ffffff"/><circle cx="1053.56" cy="121.00" r="2.35" fill="#ffffff"/><path d="M1042.86,121.00 L1048.76,117.30 L1053.56,121.00 L1053.56,123.10 L1042.86,123.10 Z" fill="#ffffff"/><path d="M1050.57,120.20 A3.10,3.10 0 0 1 1053.13,117.93" fill="none" stroke="#2460c0" stroke-width="1.5" stroke-linecap="round"/>
<path d="M1079.43,101.53 A12.25,12.25 0 1 0 1079.43,125.75 A15.58,15.58 0 0 1 1079.43,101.53 Z" fill="#fff" stroke="#000" stroke-width="1.55" stroke-linejoin="round"/><circle cx="1073.31" cy="119.70" r="5.10" fill="#33557c"/><circle cx="1080.20" cy="115.60" r="5.40" fill="#33557c"/><circle cx="1086.20" cy="120.50" r="5.30" fill="#33557c"/><path d="M1073.31,119.70 L1080.20,115.60 L1086.20,120.50 L1086.20,124.55 L1073.31,124.55 Z" fill="#33557c"/><circle cx="1073.31" cy="119.70" r="3.45" fill="#d3d3d3"/><circle cx="1080.20" cy="115.60" r="3.75" fill="#d3d3d3"/><circle cx="1086.20" cy="120.50" r="3.65" fill="#d3d3d3"/><path d="M1073.31,119.70 L1080.20,115.60 L1086.20,120.50 L1086.20,122.90 L1073.31,122.90 Z" fill="#d3d3d3"/><path d="M1081.88,119.34 A4.47,4.47 0 0 1 1085.58,116.07" fill="none" stroke="#33557c" stroke-width="1.65" stroke-linecap="round"/>
<g fill="none" stroke="#000" stroke-width="2.0" stroke-linecap="butt"><path d="M114.31,155.28 L138.89,150.72 M135.15,151.41 L137.78,155.90"/><path d="M132.28,157.68 L155.46,148.32 M151.94,149.74 L155.41,153.61"/><path d="M149.40,157.28 L172.89,148.72 M169.32,150.02 L172.65,154.01"/><path d="M166.67,157.28 L190.16,148.72 M186.59,150.02 L189.92,154.01"/><path d="M208.17,153.65 L183.20,152.35 M187.00,152.54 L185.49,147.57"/><path d="M224.19,158.48 L201.72,147.52 M205.14,149.19 L205.69,144.02"/><path d="M239.22,161.68 L221.23,144.32 M223.97,146.96 L226.09,142.21"/><path d="M239.46,162.58 L255.53,143.42 M253.09,146.34 L257.97,148.12"/><path d="M252.64,156.02 L276.90,149.98 M273.21,150.90 L276.11,155.21"/><path d="M270.45,157.68 L293.63,148.32 M290.11,149.74 L293.58,153.61"/><path d="M287.47,157.01 L311.15,148.99 M307.55,150.21 L310.79,154.27"/><path d="M304.76,157.07 L328.40,148.93 M324.81,150.17 L328.07,154.21"/><path d="M321.90,156.65 L345.81,149.35 M342.17,150.46 L345.29,154.61"/><path d="M341.83,161.36 L360.41,144.64 M357.59,147.18 L362.17,149.63"/><path d="M357.01,158.16 L379.78,147.84 M376.32,149.41 L379.95,153.13"/><path d="M374.25,158.08 L397.08,147.92 M393.61,149.46 L397.22,153.21"/><path d="M390.79,155.94 L415.09,150.06 M411.39,150.95 L414.26,155.29"/><path d="M407.98,155.60 L432.43,150.40 M428.72,151.19 L431.46,155.60"/><path d="M425.21,155.39 L449.75,150.61 M446.02,151.34 L448.69,155.80"/><path d="M442.62,156.02 L466.88,149.98 M463.19,150.90 L466.09,155.21"/><path d="M462.44,161.03 L481.60,144.97 M478.68,147.41 L483.18,150.02"/><path d="M488.42,165.47 L490.16,140.53 M489.90,144.32 L494.90,142.90"/><path d="M508.95,165.27 L504.18,140.73 M504.90,144.46 L509.36,141.79"/><path d="M514.33,161.12 L533.34,144.88 M530.45,147.35 L534.97,149.92"/><path d="M529.33,157.19 L552.88,148.81 M549.30,150.08 L552.61,154.09"/><path d="M546.42,156.65 L570.33,149.35 M566.69,150.46 L569.81,154.61"/><path d="M563.87,157.19 L587.42,148.81 M583.84,150.08 L587.15,154.09"/><path d="M583.48,161.20 L602.35,144.80 M599.48,147.29 L604.02,149.82"/><path d="M613.76,164.98 L606.62,141.02 M607.70,144.66 L611.88,141.57"/><path d="M636.95,161.13 L617.97,144.87 M620.85,147.34 L622.69,142.48"/><path d="M648.49,164.92 L640.97,141.08 M642.11,144.70 L646.24,141.55"/><path d="M651.29,159.44 L672.72,146.56 M669.46,148.52 L673.49,151.80"/><path d="M667.68,157.68 L690.86,148.32 M687.34,149.74 L690.81,153.61"/><path d="M684.39,155.92 L708.70,150.08 M705.00,150.97 L707.86,155.31"/><path d="M701.52,155.28 L726.10,150.72 M722.37,151.41 L725.00,155.90"/><path d="M720.00,158.77 L742.17,147.23 M738.80,148.98 L742.63,152.50"/><path d="M750.10,165.38 L746.62,140.62 M747.15,144.38 L751.74,141.95"/><path d="M772.38,163.52 L758.87,142.48 M760.93,145.68 L764.09,141.55"/><path d="M787.46,164.64 L778.34,141.36 M779.72,144.90 L783.63,141.47"/><path d="M791.80,162.29 L808.53,143.71 M805.99,146.53 L810.81,148.49"/><path d="M805.52,156.76 L829.36,149.24 M825.74,150.38 L828.89,154.51"/><path d="M823.04,157.48 L846.38,148.52 M842.83,149.88 L846.24,153.81"/><path d="M840.14,157.01 L863.82,148.99 M860.22,150.21 L863.46,154.27"/><path d="M857.70,157.76 L880.81,148.24 M877.30,149.68 L880.79,153.53"/><path d="M877.28,161.41 L895.77,144.59 M892.96,147.14 L897.56,149.57"/><path d="M905.53,165.38 L902.06,140.62 M902.58,144.38 L907.18,141.95"/><path d="M923.02,165.35 L919.11,140.65 M919.71,144.41 L924.26,141.90"/><path d="M929.17,161.49 L947.51,144.51 M944.72,147.09 L949.34,149.47"/><path d="M944.65,159.02 L966.56,146.98 M963.23,148.81 L967.14,152.24"/><path d="M961.32,157.76 L984.44,148.24 M980.92,149.68 L984.42,153.53"/><path d="M978.46,157.42 L1001.84,148.58 M998.29,149.92 L1001.67,153.87"/><path d="M994.93,152.56 L1019.91,153.44 M1016.12,153.30 L1017.71,158.25"/><path d="M1016.43,143.62 L1032.96,162.38 M1030.45,159.53 L1027.95,164.08"/><path d="M1040.87,140.55 L1043.05,165.45 M1042.72,161.67 L1038.01,163.85"/><path d="M1052.61,142.40 L1065.86,163.60 M1065.86,163.60 L1059.67,171.93"/><path d="M1065.87,146.43 L1087.14,159.57 M1087.14,159.57 L1085.28,169.77"/><path d="M1083.41,146.01 L1104.14,159.99 M1104.14,159.99 L1101.87,170.11"/></g>
<path d="M127.5,97.5 L1094.5,97.5 L1094.5,359.3 L127.5,359.3 Z" fill="none" stroke="#000" stroke-width="1.25"/>
<line x1="144.5" y1="359" x2="144.5" y2="354" stroke="#000" stroke-width="1"/>
<line x1="161.5" y1="359" x2="161.5" y2="349" stroke="#000" stroke-width="1"/>
<line x1="178.5" y1="359" x2="178.5" y2="354" stroke="#000" stroke-width="1"/>
<line x1="196.5" y1="359" x2="196.5" y2="349" stroke="#000" stroke-width="1"/>
<line x1="213.5" y1="359" x2="213.5" y2="354" stroke="#000" stroke-width="1"/>
<line x1="230.5" y1="359" x2="230.5" y2="349" stroke="#000" stroke-width="1"/>
<line x1="247.5" y1="359" x2="247.5" y2="354" stroke="#000" stroke-width="1"/>
<line x1="282.5" y1="359" x2="282.5" y2="354" stroke="#000" stroke-width="1"/>
<line x1="299.5" y1="359" x2="299.5" y2="349" stroke="#000" stroke-width="1"/>
<line x1="317.5" y1="359" x2="317.5" y2="354" stroke="#000" stroke-width="1"/>
<line x1="334.5" y1="359" x2="334.5" y2="349" stroke="#000" stroke-width="1"/>
<line x1="351.5" y1="359" x2="351.5" y2="354" stroke="#000" stroke-width="1"/>
<line x1="368.5" y1="359" x2="368.5" y2="349" stroke="#000" stroke-width="1"/>
<line x1="386.5" y1="359" x2="386.5" y2="354" stroke="#000" stroke-width="1"/>
<line x1="420.5" y1="359" x2="420.5" y2="354" stroke="#000" stroke-width="1"/>
<line x1="438.5" y1="359" x2="438.5" y2="349" stroke="#000" stroke-width="1"/>
<line x1="455.5" y1="359" x2="455.5" y2="354" stroke="#000" stroke-width="1"/>
<line x1="472.5" y1="359" x2="472.5" y2="349" stroke="#000" stroke-width="1"/>
<line x1="489.5" y1="359" x2="489.5" y2="354" stroke="#000" stroke-width="1"/>
<line x1="507.5" y1="359" x2="507.5" y2="349" stroke="#000" stroke-width="1"/>
<line x1="524.5" y1="359" x2="524.5" y2="354" stroke="#000" stroke-width="1"/>
<line x1="559.5" y1="359" x2="559.5" y2="354" stroke="#000" stroke-width="1"/>
<line x1="576.5" y1="359" x2="576.5" y2="349" stroke="#000" stroke-width="1"/>
<line x1="593.5" y1="359" x2="593.5" y2="354" stroke="#000" stroke-width="1"/>
<line x1="610.5" y1="359" x2="610.5" y2="349" stroke="#000" stroke-width="1"/>
<line x1="628.5" y1="359" x2="628.5" y2="354" stroke="#000" stroke-width="1"/>
<line x1="645.5" y1="359" x2="645.5" y2="349" stroke="#000" stroke-width="1"/>
<line x1="662.5" y1="359" x2="662.5" y2="354" stroke="#000" stroke-width="1"/>
<line x1="697.5" y1="359" x2="697.5" y2="354" stroke="#000" stroke-width="1"/>
<line x1="714.5" y1="359" x2="714.5" y2="349" stroke="#000" stroke-width="1"/>
<line x1="731.5" y1="359" x2="731.5" y2="354" stroke="#000" stroke-width="1"/>
<line x1="749.5" y1="359" x2="749.5" y2="349" stroke="#000" stroke-width="1"/>
<line x1="766.5" y1="359" x2="766.5" y2="354" stroke="#000" stroke-width="1"/>
<line x1="783.5" y1="359" x2="783.5" y2="349" stroke="#000" stroke-width="1"/>
<line x1="801.5" y1="359" x2="801.5" y2="354" stroke="#000" stroke-width="1"/>
<line x1="835.5" y1="359" x2="835.5" y2="354" stroke="#000" stroke-width="1"/>
<line x1="852.5" y1="359" x2="852.5" y2="349" stroke="#000" stroke-width="1"/>
<line x1="870.5" y1="359" x2="870.5" y2="354" stroke="#000" stroke-width="1"/>
<line x1="887.5" y1="359" x2="887.5" y2="349" stroke="#000" stroke-width="1"/>
<line x1="904.5" y1="359" x2="904.5" y2="354" stroke="#000" stroke-width="1"/>
<line x1="922.5" y1="359" x2="922.5" y2="349" stroke="#000" stroke-width="1"/>
<line x1="939.5" y1="359" x2="939.5" y2="354" stroke="#000" stroke-width="1"/>
<line x1="973.5" y1="359" x2="973.5" y2="354" stroke="#000" stroke-width="1"/>
<line x1="991.5" y1="359" x2="991.5" y2="349" stroke="#000" stroke-width="1"/>
<line x1="1008.5" y1="359" x2="1008.5" y2="354" stroke="#000" stroke-width="1"/>
<line x1="1025.5" y1="359" x2="1025.5" y2="349" stroke="#000" stroke-width="1"/>
<line x1="1043.5" y1="359" x2="1043.5" y2="354" stroke="#000" stroke-width="1"/>
<line x1="1060.5" y1="359" x2="1060.5" y2="349" stroke="#000" stroke-width="1"/>
<line x1="1077.5" y1="359" x2="1077.5" y2="354" stroke="#000" stroke-width="1"/>
<text x="161.0" y="377.2" font-size="17.3" fill="#000" text-anchor="middle" textLength="21.9" lengthAdjust="spacingAndGlyphs">06</text>
<text x="195.6" y="377.2" font-size="17.3" fill="#000" text-anchor="middle" textLength="21.9" lengthAdjust="spacingAndGlyphs">12</text>
<text x="230.1" y="377.2" font-size="17.3" fill="#000" text-anchor="middle" textLength="21.9" lengthAdjust="spacingAndGlyphs">18</text>
<text x="299.2" y="377.2" font-size="17.3" fill="#000" text-anchor="middle" textLength="21.9" lengthAdjust="spacingAndGlyphs">06</text>
<text x="333.8" y="377.2" font-size="17.3" fill="#000" text-anchor="middle" textLength="21.9" lengthAdjust="spacingAndGlyphs">12</text>
<text x="368.3" y="377.2" font-size="17.3" fill="#000" text-anchor="middle" textLength="21.9" lengthAdjust="spacingAndGlyphs">18</text>
<text x="265.3" y="377.2" font-size="18.0" fill="#000" text-anchor="middle" textLength="26.2" lengthAdjust="spacingAndGlyphs">sre</text>
<text x="437.4" y="377.2" font-size="17.3" fill="#000" text-anchor="middle" textLength="21.9" lengthAdjust="spacingAndGlyphs">06</text>
<text x="471.9" y="377.2" font-size="17.3" fill="#000" text-anchor="middle" textLength="21.9" lengthAdjust="spacingAndGlyphs">12</text>
<text x="506.5" y="377.2" font-size="17.3" fill="#000" text-anchor="middle" textLength="21.9" lengthAdjust="spacingAndGlyphs">18</text>
<text x="403.4" y="377.2" font-size="18.0" fill="#000" text-anchor="middle" textLength="26.8" lengthAdjust="spacingAndGlyphs">čet</text>
<text x="575.5" y="377.2" font-size="17.3" fill="#000" text-anchor="middle" textLength="21.9" lengthAdjust="spacingAndGlyphs">06</text>
<text x="610.1" y="377.2" font-size="17.3" fill="#000" text-anchor="middle" textLength="21.9" lengthAdjust="spacingAndGlyphs">12</text>
<text x="644.6" y="377.2" font-size="17.3" fill="#000" text-anchor="middle" textLength="21.9" lengthAdjust="spacingAndGlyphs">18</text>
<text x="541.6" y="377.2" font-size="18.0" fill="#000" text-anchor="middle" textLength="28.2" lengthAdjust="spacingAndGlyphs">pet</text>
<text x="713.7" y="377.2" font-size="17.3" fill="#000" text-anchor="middle" textLength="21.9" lengthAdjust="spacingAndGlyphs">06</text>
<text x="748.3" y="377.2" font-size="17.3" fill="#000" text-anchor="middle" textLength="21.9" lengthAdjust="spacingAndGlyphs">12</text>
<text x="782.8" y="377.2" font-size="17.3" fill="#000" text-anchor="middle" textLength="21.9" lengthAdjust="spacingAndGlyphs">18</text>
<text x="679.8" y="377.2" font-size="18.0" fill="#000" text-anchor="middle" textLength="30.4" lengthAdjust="spacingAndGlyphs">sob</text>
<text x="851.9" y="377.2" font-size="17.3" fill="#000" text-anchor="middle" textLength="21.9" lengthAdjust="spacingAndGlyphs">06</text>
<text x="886.4" y="377.2" font-size="17.3" fill="#000" text-anchor="middle" textLength="21.9" lengthAdjust="spacingAndGlyphs">12</text>
<text x="921.0" y="377.2" font-size="17.3" fill="#000" text-anchor="middle" textLength="21.9" lengthAdjust="spacingAndGlyphs">18</text>
<text x="817.9" y="377.2" font-size="18.0" fill="#000" text-anchor="middle" textLength="32.4" lengthAdjust="spacingAndGlyphs">ned</text>
<text x="990.0" y="377.2" font-size="17.3" fill="#000" text-anchor="middle" textLength="21.9" lengthAdjust="spacingAndGlyphs">06</text>
<text x="1024.6" y="377.2" font-size="17.3" fill="#000" text-anchor="middle" textLength="21.9" lengthAdjust="spacingAndGlyphs">12</text>
<text x="1059.1" y="377.2" font-size="17.3" fill="#000" text-anchor="middle" textLength="21.9" lengthAdjust="spacingAndGlyphs">18</text>
<text x="956.1" y="377.2" font-size="18.0" fill="#000" text-anchor="middle" textLength="32.3" lengthAdjust="spacingAndGlyphs">pon</text>
<text x="125.0" y="365.2" font-size="17.3" fill="#000" text-anchor="end" textLength="10.8" lengthAdjust="spacingAndGlyphs">0</text>
<text x="125.0" y="327.8" font-size="17.3" fill="#000" text-anchor="end" textLength="10.8" lengthAdjust="spacingAndGlyphs">1</text>
<text x="125.0" y="290.5" font-size="17.3" fill="#000" text-anchor="end" textLength="10.8" lengthAdjust="spacingAndGlyphs">2</text>
<text x="125.0" y="253.1" font-size="17.3" fill="#000" text-anchor="end" textLength="10.8" lengthAdjust="spacingAndGlyphs">3</text>
<text x="125.0" y="215.7" font-size="17.3" fill="#000" text-anchor="end" textLength="10.8" lengthAdjust="spacingAndGlyphs">4</text>
<text x="125.0" y="178.3" font-size="17.3" fill="#000" text-anchor="end" textLength="10.8" lengthAdjust="spacingAndGlyphs">5</text>
<text x="46.2" y="365.2" font-size="17.3" fill="#ff0000" text-anchor="start" textLength="10.8" lengthAdjust="spacingAndGlyphs">5</text>
<text x="46.2" y="327.8" font-size="17.3" fill="#ff0000" text-anchor="start" textLength="10.8" lengthAdjust="spacingAndGlyphs">9</text>
<text x="46.2" y="290.5" font-size="17.3" fill="#ff0000" text-anchor="start" textLength="21.6" lengthAdjust="spacingAndGlyphs">13</text>
<text x="46.2" y="253.1" font-size="17.3" fill="#ff0000" text-anchor="start" textLength="21.6" lengthAdjust="spacingAndGlyphs">18</text>
<text x="46.2" y="215.7" font-size="17.3" fill="#ff0000" text-anchor="start" textLength="21.6" lengthAdjust="spacingAndGlyphs">22</text>
<text x="46.2" y="178.3" font-size="17.3" fill="#ff0000" text-anchor="start" textLength="21.6" lengthAdjust="spacingAndGlyphs">26</text>
<text x="1099.3" y="365.2" font-size="17.3" fill="#000" text-anchor="start" textLength="10.8" lengthAdjust="spacingAndGlyphs">0</text>
<text x="1099.3" y="327.8" font-size="17.3" fill="#000" text-anchor="start" textLength="27.0" lengthAdjust="spacingAndGlyphs">1.5</text>
<text x="1099.3" y="290.5" font-size="17.3" fill="#000" text-anchor="start" textLength="27.0" lengthAdjust="spacingAndGlyphs">3.5</text>
<text x="1099.3" y="253.1" font-size="17.3" fill="#000" text-anchor="start" textLength="27.0" lengthAdjust="spacingAndGlyphs">6.0</text>
<text x="1099.3" y="215.7" font-size="17.3" fill="#000" text-anchor="start" textLength="27.0" lengthAdjust="spacingAndGlyphs">9.0</text>
<text x="1099.3" y="178.3" font-size="17.3" fill="#000" text-anchor="start" textLength="21.6" lengthAdjust="spacingAndGlyphs">14</text>
<text transform="translate(35.2,266.7) rotate(-90)" font-size="19.8" fill="#ff0000" text-anchor="middle" textLength="164" lengthAdjust="spacingAndGlyphs">Temperatura (°C)</text>
<text transform="translate(100.2,263.5) rotate(-90)" font-size="19.8" fill="#000" text-anchor="middle" textLength="164.5" lengthAdjust="spacingAndGlyphs">Padavine (mm/h)</text>
<text transform="translate(1145.2,254.4) rotate(-90)" font-size="19.8" fill="#000" text-anchor="middle" textLength="189" lengthAdjust="spacingAndGlyphs">Višina oblakov (km)</text>
<text x="196.0" y="68.6" font-size="18.5" fill="#000" text-anchor="middle" textLength="45.5" lengthAdjust="spacingAndGlyphs">torek</text>
<text x="196.0" y="90.1" font-size="18.2" fill="#000" text-anchor="middle" textLength="51.0" lengthAdjust="spacingAndGlyphs">14.10</text>
<text x="334.2" y="68.6" font-size="18.5" fill="#000" text-anchor="middle" textLength="48.8" lengthAdjust="spacingAndGlyphs">sreda</text>
<text x="334.2" y="90.1" font-size="18.2" fill="#000" text-anchor="middle" textLength="51.0" lengthAdjust="spacingAndGlyphs">15.10</text>
<text x="472.3" y="68.6" font-size="18.5" fill="#000" text-anchor="middle" textLength="62.6" lengthAdjust="spacingAndGlyphs">četrtek</text>
<text x="472.3" y="90.1" font-size="18.2" fill="#000" text-anchor="middle" textLength="51.0" lengthAdjust="spacingAndGlyphs">16.10</text>
<text x="610.5" y="68.6" font-size="18.5" fill="#000" text-anchor="middle" textLength="49.9" lengthAdjust="spacingAndGlyphs">petek</text>
<text x="610.5" y="90.1" font-size="18.2" fill="#000" text-anchor="middle" textLength="51.0" lengthAdjust="spacingAndGlyphs">17.10</text>
<text x="748.7" y="68.6" font-size="18.5" fill="#cc0000" text-anchor="middle" textLength="59.6" lengthAdjust="spacingAndGlyphs">sobota</text>
<text x="748.7" y="90.1" font-size="18.2" fill="#cc0000" text-anchor="middle" textLength="51.0" lengthAdjust="spacingAndGlyphs">18.10</text>
<text x="886.8" y="68.6" font-size="18.5" fill="#cc0000" text-anchor="middle" textLength="64.5" lengthAdjust="spacingAndGlyphs">nedelja</text>
<text x="886.8" y="90.1" font-size="18.2" fill="#cc0000" text-anchor="middle" textLength="51.0" lengthAdjust="spacingAndGlyphs">19.10</text>
<text x="1025.0" y="68.6" font-size="18.5" fill="#000" text-anchor="middle" textLength="96.7" lengthAdjust="spacingAndGlyphs">ponedeljek</text>
<text x="1025.0" y="90.1" font-size="18.2" fill="#000" text-anchor="middle" textLength="51.0" lengthAdjust="spacingAndGlyphs">20.10</text>
<text x="10.0" y="21.4" font-size="16" fill="#0000ff" text-anchor="start">(kraj lahko izberete v meniju)</text>
<text x="399.8" y="36.8" font-size="24" fill="#0000ff" text-anchor="start" textLength="120.7" lengthAdjust="spacingAndGlyphs">Zadar 7 dni</text>
<text x="1142.5" y="21.5" font-size="16" fill="#0000ff" text-anchor="end">Zadnja posodobitev: 14.10.2025 - 00:06</text>
<rect x="127.2" y="389.8" width="31.8" height="11" fill="#0050ff"/>
<rect x="165" y="386" width="105" height="19.8" fill="#fff"/>
<text x="168.5" y="401.8" font-size="18.0" fill="#000" text-anchor="start" textLength="32.5" lengthAdjust="spacingAndGlyphs">Dež</text>
<rect x="278.1" y="389.8" width="31.9" height="11" fill="#10d8c8"/>
<rect x="310" y="386" width="110" height="19.8" fill="#fff"/>
<text x="319.2" y="401.8" font-size="18.0" fill="#000" text-anchor="start" textLength="115.5" lengthAdjust="spacingAndGlyphs">Možnost ploh</text>
<text x="499.5" y="401.8" font-size="16" fill="#0000ff" text-anchor="start" textLength="172.0" lengthAdjust="spacingAndGlyphs">© vreme.us &amp; vreme.pro</text>
<rect x="759" y="386.2" width="181" height="19.5" fill="#fff"/>
<text x="758.7" y="401.7" font-size="18.0" fill="#000" text-anchor="start" textLength="177.0" lengthAdjust="spacingAndGlyphs">Gostota oblakov (%)</text>
<rect x="949.00" y="385.3" width="29.76" height="12.9" fill="#d0d0d0"/>
<rect x="978.16" y="385.3" width="29.76" height="12.9" fill="#b0b1b0"/>
<rect x="1007.32" y="385.3" width="29.76" height="12.9" fill="#909090"/>
<rect x="1036.48" y="385.3" width="29.76" height="12.9" fill="#6e6e6e"/>
<rect x="1065.64" y="385.3" width="29.16" height="12.9" fill="#555555"/>
<rect x="949" y="385.3" width="145.8" height="12.9" fill="none" stroke="#222" stroke-width="0.9"/>
<text x="949.0" y="414.5" font-size="15.9" fill="#000" text-anchor="middle" textLength="19.1" lengthAdjust="spacingAndGlyphs">10</text>
<text x="978.2" y="414.5" font-size="15.9" fill="#000" text-anchor="middle" textLength="19.1" lengthAdjust="spacingAndGlyphs">25</text>
<text x="1007.3" y="414.5" font-size="15.9" fill="#000" text-anchor="middle" textLength="19.1" lengthAdjust="spacingAndGlyphs">50</text>
<text x="1036.5" y="414.5" font-size="15.9" fill="#000" text-anchor="middle" textLength="19.1" lengthAdjust="spacingAndGlyphs">75</text>
<text x="1065.6" y="414.5" font-size="15.9" fill="#000" text-anchor="middle" textLength="19.1" lengthAdjust="spacingAndGlyphs">90</text>
<text x="1094.8" y="414.5" font-size="15.9" fill="#000" text-anchor="middle" textLength="28.6" lengthAdjust="spacingAndGlyphs">100</text>
</svg>
</body></html>
